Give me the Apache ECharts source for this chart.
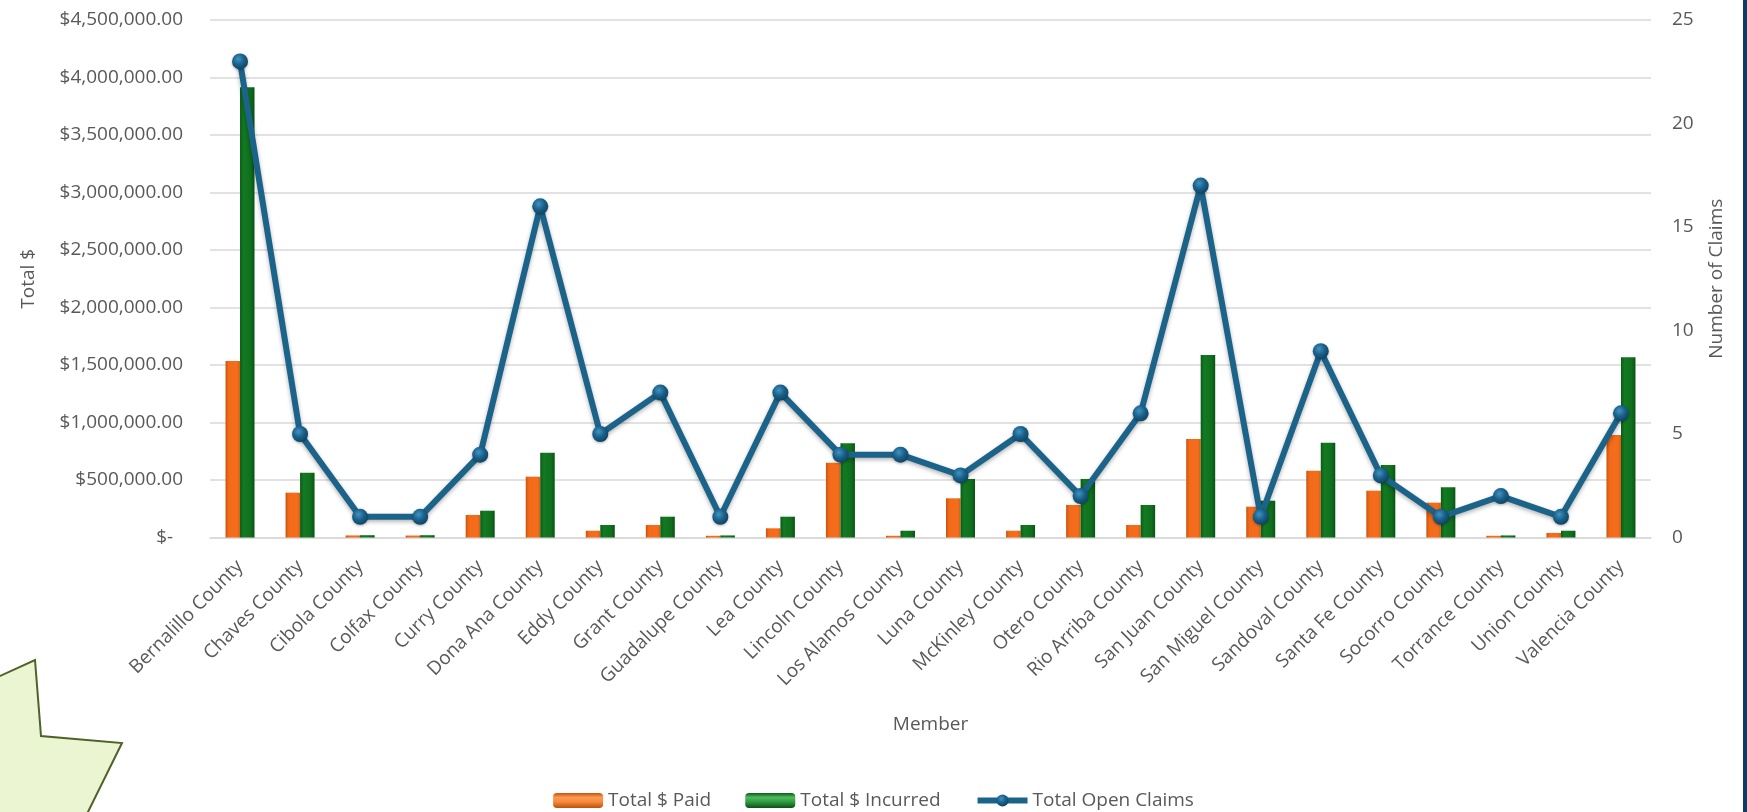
<!DOCTYPE html>
<html>
<head>
<meta charset="utf-8">
<script src="https://cdn.jsdelivr.net/npm/echarts@6/dist/echarts.min.js"></script>
<style>
  html, body { margin: 0; padding: 0; background: #ffffff; }
  #chart { width: 1747px; height: 812px; }
</style>
</head>
<body>
<div id="chart"></div>
<script>
// County members
const categories = [
  'Bernalillo County', 'Chaves County', 'Cibola County', 'Colfax County',
  'Curry County', 'Dona Ana County', 'Eddy County', 'Grant County',
  'Guadalupe County', 'Lea County', 'Lincoln County', 'Los Alamos County',
  'Luna County', 'McKinley County', 'Otero County', 'Rio Arriba County',
  'San Juan County', 'San Miguel County', 'Sandoval County', 'Santa Fe County',
  'Socorro County', 'Torrance County', 'Union County', 'Valencia County'
];

// Dollars paid per member
const totalPaid = [
  1535000, 390000, 18000, 17000, 196000, 529000, 59000, 109000,
  15000, 80000, 650000, 15000, 341000, 59000, 283000, 109000,
  857000, 268000, 581000, 407000, 303000, 15000, 40000, 891000
];

// Dollars incurred per member
const totalIncurred = [
  3915000, 563000, 20000, 20000, 233000, 737000, 109000, 181000,
  18000, 181000, 819000, 59000, 509000, 109000, 509000, 283000,
  1587000, 320000, 825000, 630000, 437000, 18000, 59000, 1567000
];

// Open claims per member
const openClaims = [
  23, 5, 1, 1, 4, 16, 5, 7, 1, 7, 4, 4,
  3, 5, 2, 6, 17, 1, 9, 3, 1, 2, 1, 6
];

const seriesNames = ['Total $ Paid', 'Total $ Incurred', 'Total Open Claims'];

const FONT = 'Open Sans';
const TEXT = '#595959';
const GRID = '#d9d9d9';
const LINE = '#1b6389';

function money(v) {
  if (v === 0) return '$-  ';
  return '$' + v.toLocaleString('en-US', { minimumFractionDigits: 2, maximumFractionDigits: 2 });
}

const grad = (stops, vertical) => new echarts.graphic.LinearGradient(
  0, 0, vertical ? 0 : 1, vertical ? 1 : 0,
  stops.map(([offset, color]) => ({ offset, color }))
);

const paidFill = grad([[0, '#c9530d'], [0.22, '#f36b1a'], [0.8, '#f46d1d'], [1, '#d95d12']]);
const incurredFill = grad([[0, '#0b5b17'], [0.25, '#137a22'], [0.75, '#0f6f1d'], [1, '#0a5214']]);
const paidKey = grad([[0, '#c9530d'], [0.3, '#fb9a52'], [0.6, '#f7883a'], [1, '#b9500f']], true);
const incurredKey = grad([[0, '#0d5a18'], [0.3, '#4cbb5c'], [0.6, '#2f9a3e'], [1, '#0b4f15']], true);

const markerFill = new echarts.graphic.RadialGradient(0.4, 0.35, 0.65, [
  { offset: 0, color: '#3f93c2' },
  { offset: 0.55, color: '#1a6089' },
  { offset: 1, color: '#0e4566' }
]);

const chart = echarts.init(document.getElementById('chart'), null, { renderer: 'canvas' });

chart.setOption({
  backgroundColor: '#ffffff',
  animation: false,
  textStyle: { fontFamily: FONT },
  grid: { left: 210, right: 96, top: 20, bottom: 274.5, containLabel: false },
  legend: {
    top: 786,
    left: 'center',
    itemWidth: 50,
    itemHeight: 15,
    itemGap: 34,
    textStyle: { fontFamily: FONT, fontSize: 19, color: TEXT },
    data: [
      { name: seriesNames[0], itemStyle: { color: paidKey } },
      { name: seriesNames[1], itemStyle: { color: incurredKey } },
      {
        name: seriesNames[2],
        lineStyle: { color: LINE, width: 6 },
        itemStyle: { color: markerFill }
      }
    ]
  },
  xAxis: {
    type: 'category',
    data: categories,
    boundaryGap: true,
    name: 'Member',
    nameLocation: 'middle',
    nameGap: 178,
    nameTextStyle: { fontFamily: FONT, fontSize: 19, color: TEXT },
    axisTick: { show: false },
    axisLine: { lineStyle: { color: GRID, width: 1.5 } },
    axisLabel: {
      interval: 0,
      rotate: 45,
      margin: 26,
      fontFamily: FONT,
      fontSize: 19,
      color: TEXT
    }
  },
  yAxis: [
    {
      type: 'value',
      min: 0,
      max: 4500000,
      interval: 500000,
      name: 'Total $',
      nameLocation: 'middle',
      nameRotate: 90,
      nameGap: 172,
      nameTextStyle: { fontFamily: FONT, fontSize: 19, color: TEXT },
      axisLine: { show: false },
      axisTick: { show: false },
      splitLine: { lineStyle: { color: GRID, width: 1.5 } },
      axisLabel: {
        margin: 27,
        fontFamily: FONT,
        fontSize: 19,
        color: TEXT,
        formatter: money
      }
    },
    {
      type: 'value',
      min: 0,
      max: 25,
      interval: 5,
      position: 'right',
      name: 'Number of Claims',
      nameLocation: 'middle',
      nameRotate: 90,
      nameGap: 56,
      nameTextStyle: { fontFamily: FONT, fontSize: 19, color: TEXT },
      axisLine: { show: false },
      axisTick: { show: false },
      splitLine: { show: false },
      axisLabel: {
        margin: 21,
        fontFamily: FONT,
        fontSize: 19,
        color: TEXT
      }
    }
  ],
  series: [
    {
      name: seriesNames[0],
      type: 'bar',
      yAxisIndex: 0,
      data: totalPaid,
      barWidth: 14.5,
      barGap: '0%',
      itemStyle: { color: paidFill }
    },
    {
      name: seriesNames[1],
      type: 'bar',
      yAxisIndex: 0,
      data: totalIncurred,
      barWidth: 14.5,
      barGap: '0%',
      itemStyle: { color: incurredFill }
    },
    {
      name: seriesNames[2],
      type: 'line',
      yAxisIndex: 1,
      data: openClaims,
      z: 5,
      symbol: 'circle',
      symbolSize: 16,
      lineStyle: {
        color: LINE,
        width: 6,
        shadowColor: 'rgba(0,0,0,0.3)',
        shadowBlur: 4,
        shadowOffsetY: 2
      },
      itemStyle: {
        color: markerFill,
        borderWidth: 0,
        shadowColor: 'rgba(0,0,0,0.3)',
        shadowBlur: 3,
        shadowOffsetY: 1
      }
    }
  ],
  graphic: [
    {
      // callout star corner in the lower left
      type: 'polygon',
      silent: true,
      shape: {
        points: [[-10, 680.6], [35, 660], [41, 736], [122, 743], [84, 820], [-10, 820]]
      },
      style: { fill: '#ebf5d2', stroke: '#4f6228', lineWidth: 2 }
    },
    {
      // dark frame edge on the right
      type: 'rect',
      silent: true,
      shape: { x: 1743, y: 0, width: 4, height: 812 },
      style: { fill: '#0f3b66' }
    }
  ]
});
</script>
</body>
</html>
